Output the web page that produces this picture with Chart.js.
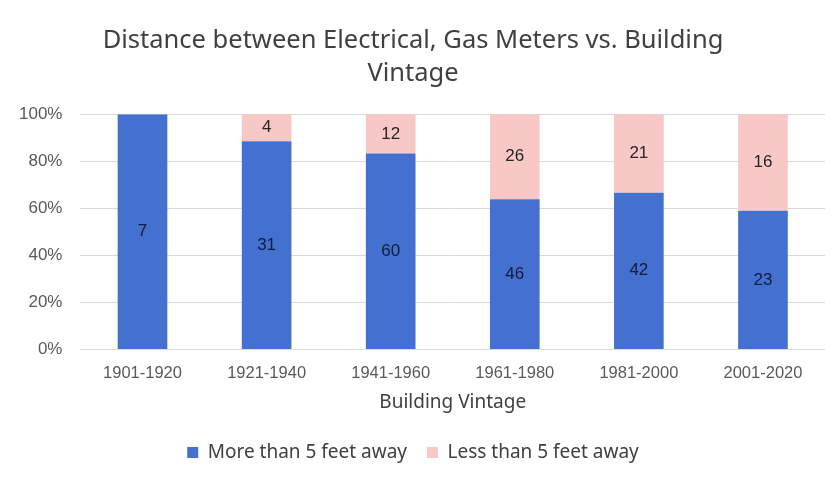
<!DOCTYPE html>
<html>
<head>
<meta charset="utf-8">
<script src="https://cdn.jsdelivr.net/npm/chart.js@4"></script>
<style>
  body { margin: 0; background: #fff; }
  #wrap { width: 835px; height: 480px; }
</style>
</head>
<body>
<div id="wrap"><canvas id="chart"></canvas></div>
<script>
// counts
var vintages = ["1901-1920", "1921-1940", "1941-1960", "1961-1980", "1981-2000", "2001-2020"];
var more_than_5 = [7, 31, 60, 46, 42, 23];
var less_than_5 = [0, 4, 12, 26, 21, 16];

// share of each vintage, so the bars stack to 100%
var totals = vintages.map(function (v, i) { return more_than_5[i] + less_than_5[i]; });
var more_pct = more_than_5.map(function (n, i) { return n / totals[i]; });
var less_pct = less_than_5.map(function (n, i) { return n / totals[i]; });

// write the count in the middle of each segment
var countLabels = {
  id: "countLabels",
  afterDatasetsDraw: function (chart) {
    var ctx = chart.ctx;
    ctx.save();
    ctx.font = "17px 'Liberation Sans', Arial, sans-serif";
    ctx.textAlign = "center";
    ctx.textBaseline = "middle";
    chart.data.datasets.forEach(function (ds, di) {
      var meta = chart.getDatasetMeta(di);
      meta.data.forEach(function (bar, i) {
        var n = ds.counts[i];
        if (!n) return;
        ctx.fillStyle = di == 0 ? "#0d1b3d" : "#262626";
        ctx.fillText(n, bar.x, (bar.y + bar.base) / 2);
      });
    });
    ctx.restore();
  }
};

const config = {
  type: 'bar',
  data: {
    labels: vintages,
    datasets: [{
      label: 'More than 5 feet away',
      data: more_pct,
      counts: more_than_5,
      backgroundColor: '#4471cf',
      barPercentage: 0.4,
      categoryPercentage: 1.0
    }, {
      label: 'Less than 5 feet away',
      data: less_pct,
      counts: less_than_5,
      backgroundColor: '#f7c8c6',
      barPercentage: 0.4,
      categoryPercentage: 1.0
    }]
  },
  options: {
    responsive: true,
    maintainAspectRatio: false,
    animation: false,
    layout: { padding: { left: 1, right: 10, top: 18, bottom: 8 } },
    plugins: {
      title: {
        display: true,
        text: ['Distance between Electrical, Gas Meters vs. Building', 'Vintage'],
        color: '#404040',
        font: { family: "'Noto Sans', sans-serif", size: 25.5, weight: 'normal', lineHeight: 1.3 },
        padding: { top: 6, bottom: 24 }
      },
      legend: {
        position: 'bottom',
        labels: {
          color: '#404040',
          font: { family: "'Noto Sans', sans-serif", size: 19 },
          boxWidth: 11,
          boxHeight: 11,
          padding: 20
        }
      },
      tooltip: { enabled: false }
    },
    scales: {
      x: {
        stacked: true,
        grid: { display: false },
        border: { display: false },
        ticks: { color: '#595959', padding: 6, font: { family: "'Liberation Sans', Arial, sans-serif", size: 16.5 } },
        title: {
          display: true,
          text: 'Building Vintage',
          color: '#404040',
          font: { family: "'Noto Sans', sans-serif", size: 19 },
          padding: { top: 2, bottom: 9 }
        }
      },
      y: {
        stacked: true,
        min: 0,
        max: 1,
        ticks: {
          stepSize: 0.2,
          color: '#595959',
          padding: 18,
          font: { family: "'Liberation Sans', Arial, sans-serif", size: 17 },
          callback: function (v) { return Math.round(v * 100) + '%'; }
        },
        grid: { color: '#d9d9d9', drawTicks: false },
        border: { display: false }
      }
    }
  },
  plugins: [countLabels]
};

new Chart(document.getElementById('chart'), config);
</script>
</body>
</html>
